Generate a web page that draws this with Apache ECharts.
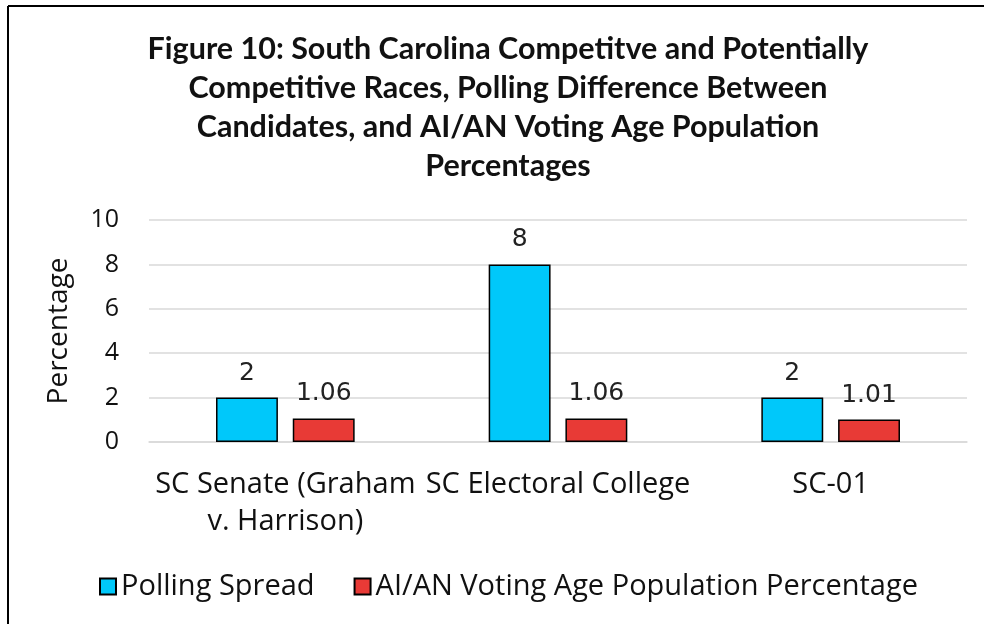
<!DOCTYPE html>
<html>
<head>
<meta charset="utf-8">
<script src="https://cdn.jsdelivr.net/npm/echarts@6/dist/echarts.min.js"></script>
<style>
  html, body { margin: 0; padding: 0; background: #fff; }
  #chart { width: 984px; height: 624px; }
</style>
</head>
<body>
<div id="chart"></div>
<script>
const categories = ["SC Senate (Graham\nv. Harrison)", "SC Electoral College", "SC-01"];
const pollingSpread = [2, 8, 2];
const aianVap = [1.06, 1.06, 1.01];
const seriesNames = ["Polling Spread", "AI/AN Voting Age Population Percentage"];
const yTicks = { min: 0, max: 10, interval: 2 };

const chart = echarts.init(document.getElementById("chart"));

const labelStyle = (fmt) => ({
  show: true,
  position: "top",
  distance: 12,
  fontFamily: "DejaVu Sans",
  fontSize: 25,
  color: "#222",
  formatter: fmt
});

const option = {
  animation: false,
  textStyle: { fontFamily: "Open Sans" },
  graphic: [
    // frame: only top and left edges show in the picture
    { type: "line", shape: { x1: 8, y1: 6, x2: 984, y2: 6 }, style: { stroke: "#000", lineWidth: 2 } },
    { type: "line", shape: { x1: 8, y1: 6, x2: 8, y2: 624 }, style: { stroke: "#000", lineWidth: 2 } }
  ],
  title: {
    text: "Figure 10: South Carolina Competitve and Potentially\nCompetitive Races, Polling Difference Between\nCandidates, and AI/AN Voting Age Population\nPercentages",
    left: 503,
    top: 25,
    textAlign: "center",
    textStyle: {
      fontFamily: "Lato",
      fontWeight: "bold",
      fontSize: 30.5,
      lineHeight: 39,
      color: "#111"
    }
  },
  legend: {
    bottom: 18,
    left: 94,
    itemWidth: 16,
    itemHeight: 16,
    itemGap: 39,
    icon: "rect",
    textStyle: { fontFamily: "Open Sans", fontSize: 29, color: "#111" },
    data: seriesNames
  },
  grid: { left: 149, right: 17, top: 220, bottom: 182 },
  xAxis: {
    type: "category",
    data: categories,
    axisTick: { show: false },
    axisLine: { lineStyle: { color: "#d9d9d9", width: 1.5 } },
    axisLabel: {
      fontFamily: "Open Sans",
      fontSize: 29,
      color: "#111",
      margin: 24,
      lineHeight: 37,
      interval: 0
    }
  },
  yAxis: {
    type: "value",
    min: yTicks.min,
    max: yTicks.max,
    interval: yTicks.interval,
    name: "Percentage",
    nameLocation: "middle",
    nameGap: 76,
    nameTextStyle: { fontFamily: "Open Sans", fontSize: 28, color: "#111" },
    axisLabel: { fontFamily: "Open Sans", fontSize: 25, color: "#111", margin: 30 },
    splitLine: { lineStyle: { color: "#d9d9d9", width: 1.5 } }
  },
  series: [
    {
      name: seriesNames[0],
      type: "bar",
      data: pollingSpread,
      barWidth: "22.7%",
      barGap: "24%",
      itemStyle: { color: "#00c8fa", borderColor: "#000", borderWidth: 1.5 },
      label: labelStyle((p) => String(p.value))
    },
    {
      name: seriesNames[1],
      type: "bar",
      data: aianVap,
      barWidth: "22.7%",
      itemStyle: { color: "#e83a36", borderColor: "#000", borderWidth: 1.5 },
      label: labelStyle((p) => p.value.toFixed(2))
    }
  ]
};

chart.setOption(option);
</script>
</body>
</html>
